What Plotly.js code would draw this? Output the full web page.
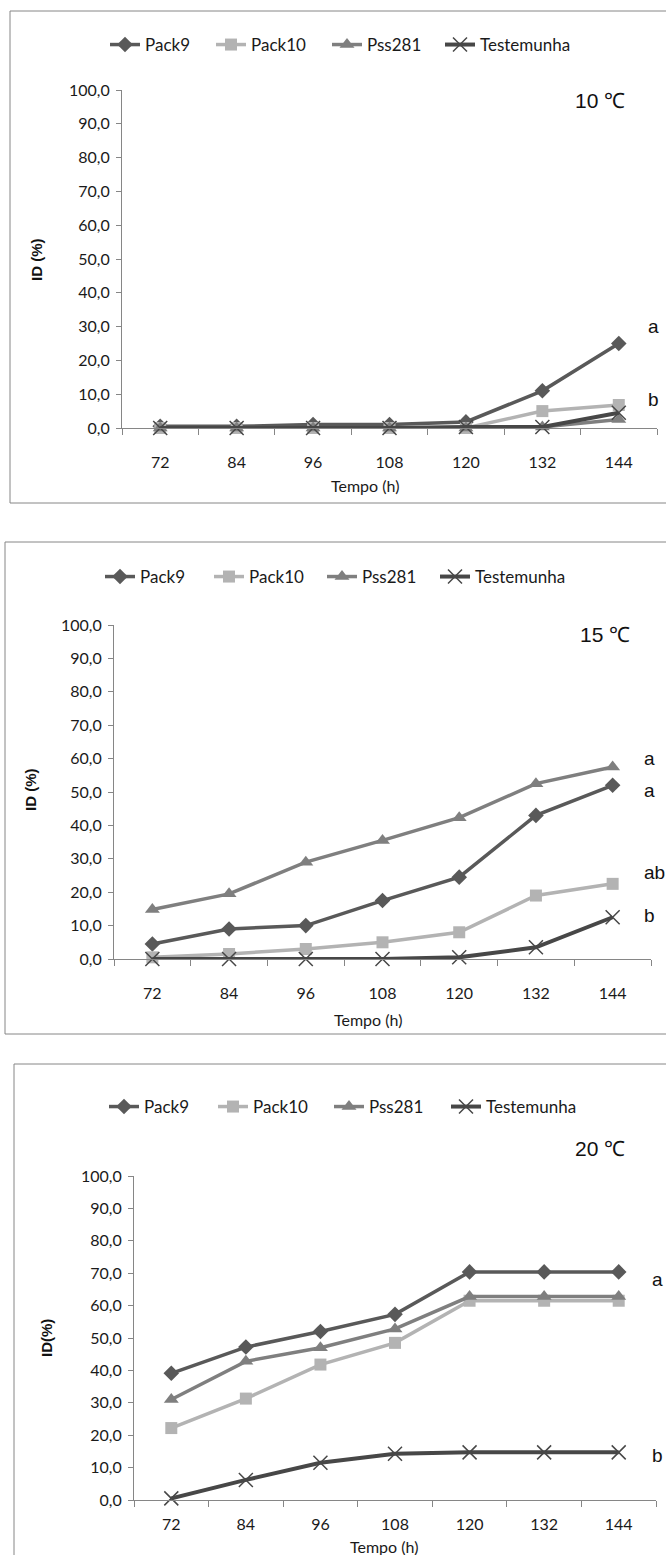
<!DOCTYPE html>
<html><head><meta charset="utf-8">
<script src="https://cdn.plot.ly/plotly-3.0.1.min.js"></script>
<style>html,body{margin:0;padding:0;background:#fff}#chart{width:666px;height:1555px}</style>
</head><body><div id="chart"></div>
<script>
// ---- data ----
const hours = ['72','84','96','108','120','132','144'];
const seriesNames = ['Pack9','Pack10','Pss281','Testemunha'];
const yTickVals = [0,10,20,30,40,50,60,70,80,90,100];
const yTickText = ['0,0','10,0','20,0','30,0','40,0','50,0','60,0','70,0','80,0','90,0','100,0'];
const xTitle = 'Tempo (h)';
const yTitles = ['ID (%)','ID (%)','ID(%)'];
const panelLabels = ['10 \u2103','15 \u2103','20 \u2103'];

// 10 °C
const pack9_10   = [0.5,0.5,1.0,1.0,1.8,11.0,25.0];
const pack10_10  = [0.0,0.0,0.0,0.0,0.0,5.0,6.8];
const pss281_10  = [0.0,0.0,0.0,0.0,0.0,0.3,2.5];
const test_10    = [0.0,0.0,0.0,0.0,0.3,0.3,4.5];
// 15 °C
const pack9_15   = [4.5,9.0,10.0,17.5,24.5,43.0,52.0];
const pack10_15  = [0.5,1.5,3.0,5.0,8.0,19.0,22.5];
const pss281_15  = [14.8,19.5,29.0,35.5,42.3,52.5,57.5];
const test_15    = [0.0,0.0,0.0,0.0,0.5,3.5,12.5];
// 20 °C
const pack9_20   = [39.1,47.2,52.0,57.3,70.4,70.4,70.4];
const pack10_20  = [22.2,31.3,41.8,48.5,61.5,61.5,61.5];
const pss281_20  = [31.0,42.8,47.0,52.8,62.8,62.8,62.8];
const test_20    = [0.5,6.2,11.5,14.3,14.7,14.7,14.7];

// significance letters and their heights
const letters10 = ['a','b'];          const letterY10 = [30,8.5];
const letters15 = ['a','a','ab','b']; const letterY15 = [60,50.5,26,13];
const letters20 = ['a','b'];          const letterY20 = [68,13.8];

// ---- styling ----
const W = 666, H = 1555;
const px = v => v / W, py = v => 1 - v / H;
const colors = ['#595959','#b3b3b3','#7f7f7f','#474747'];
const symbols = ['diamond','square','triangle-up','x-thin-open'];
const msize = [12,12,13,14];
const lw = [3.5,3.5,3.5,4];
const axisCol = '#868686';
const sansFam = 'Lato, "Open Sans", sans-serif';
const arialFam = '"Liberation Sans", Arial, sans-serif';
const tickFont = {family:sansFam, size:16, color:'#1a1a1a'};

const panels = [
  {data:[pack9_10,pack10_10,pss281_10,test_10], x0:122, x1:657, yb:428, yt:90, legY:45, legXs:[111,217,333,446],
   frame:[10,11,700,503], lab:[600,100], xt:[365,486], xts:20, yt2:[36,260], letters:letters10, ly:letterY10, lx:6.35},
  {data:[pack9_15,pack10_15,pss281_15,test_15], x0:114, x1:651, yb:959, yt:625, legY:577, legXs:[106,215,328,441],
   frame:[5,542,700,1034], lab:[605,634], xt:[368,1019], xts:20, yt2:[30,790], letters:letters15, ly:letterY15, lx:6.38},
  {data:[pack9_20,pack10_20,pss281_20,test_20], x0:134, x1:656, yb:1500, yt:1176, legY:1107, legXs:[110,219,335,452],
   frame:[14,1064,700,1700], lab:[600,1148], xt:[384,1546], xts:10, yt2:[46,1338], letters:letters20, ly:letterY20, lx:6.42}
];

const traces = [];
const layout = {
  width: W, height: H, margin:{l:0,r:0,t:0,b:0},
  paper_bgcolor:'#fff', plot_bgcolor:'rgba(0,0,0,0)',
  showlegend:true, shapes:[], annotations:[]
};

panels.forEach((p, i) => {
  const sfx = i === 0 ? '' : String(i+1);
  p.data.forEach((vals, k) => {
    const n = i*4 + k + 1;
    const legName = n === 1 ? 'legend' : 'legend' + n;
    traces.push({
      type:'scatter', mode:'lines+markers', x:hours, y:vals, name:seriesNames[k],
      xaxis:'x'+sfx, yaxis:'y'+sfx, legend:legName, cliponaxis:false,
      line:{color:colors[k], width:lw[k]},
      marker:{symbol:symbols[k], size:msize[k], color:colors[k],
              line:{color:k===3?'#3a3a3a':colors[k], width:k===3?1.5:0}}
    });
    layout[legName] = {
      orientation:'h', x:px(p.legXs[k] - 6), xanchor:'left', y:py(p.legY), yanchor:'middle',
      font:{family:sansFam, size:17, color:'#1a1a1a'},
      bgcolor:'rgba(0,0,0,0)'
    };
  });
  layout['xaxis'+sfx] = {
    type:'category', domain:[px(p.x0), px(p.x1)], anchor:'y'+sfx,
    range:[-0.5,6.5], showline:true, linecolor:axisCol, linewidth:1,
    ticks:'outside', tickson:'boundaries', ticklen:6, tickcolor:axisCol,
    ticklabelstandoff:p.xts, showgrid:false, zeroline:false, tickfont:tickFont, fixedrange:true
  };
  layout['yaxis'+sfx] = {
    domain:[py(p.yb), py(p.yt)], anchor:'x'+sfx, range:[0,100],
    tickvals:yTickVals, ticktext:yTickText, showline:true, linecolor:axisCol, linewidth:1,
    ticks:'outside', ticklen:5, tickcolor:axisCol, ticklabelstandoff:3,
    showgrid:false, zeroline:false, tickfont:tickFont, fixedrange:true
  };
  layout.shapes.push({type:'rect', xref:'paper', yref:'paper',
    x0:px(p.frame[0]), x1:px(p.frame[2]), y0:py(p.frame[3]), y1:py(p.frame[1]),
    line:{color:axisCol, width:1}, fillcolor:'rgba(0,0,0,0)', layer:'below'});
  layout.annotations.push({xref:'paper', yref:'paper', x:px(p.lab[0]), y:py(p.lab[1]),
    text:panelLabels[i], showarrow:false, xanchor:'center', yanchor:'middle',
    font:{family:arialFam, size:21, color:'#111'}});
  layout.annotations.push({xref:'paper', yref:'paper', x:px(p.xt[0]), y:py(p.xt[1]),
    text:xTitle, showarrow:false, xanchor:'center', yanchor:'middle',
    font:{family:sansFam, size:16, color:'#1a1a1a'}});
  layout.annotations.push({xref:'paper', yref:'paper', x:px(p.yt2[0]), y:py(p.yt2[1]),
    text:'<b>'+yTitles[i]+'</b>', showarrow:false, textangle:-90, xanchor:'center', yanchor:'middle',
    font:{family:arialFam, size:15, color:'#111'}});
  p.letters.forEach((t, j) => {
    layout.annotations.push({xref:'x'+sfx, yref:'y'+sfx, x:p.lx, y:p.ly[j], text:t,
      showarrow:false, xanchor:'left', yanchor:'middle',
      font:{family:arialFam, size:19, color:'#111'}});
  });
});

Plotly.newPlot('chart', traces, layout, {staticPlot:true, displayModeBar:false});
</script>
</body></html>
